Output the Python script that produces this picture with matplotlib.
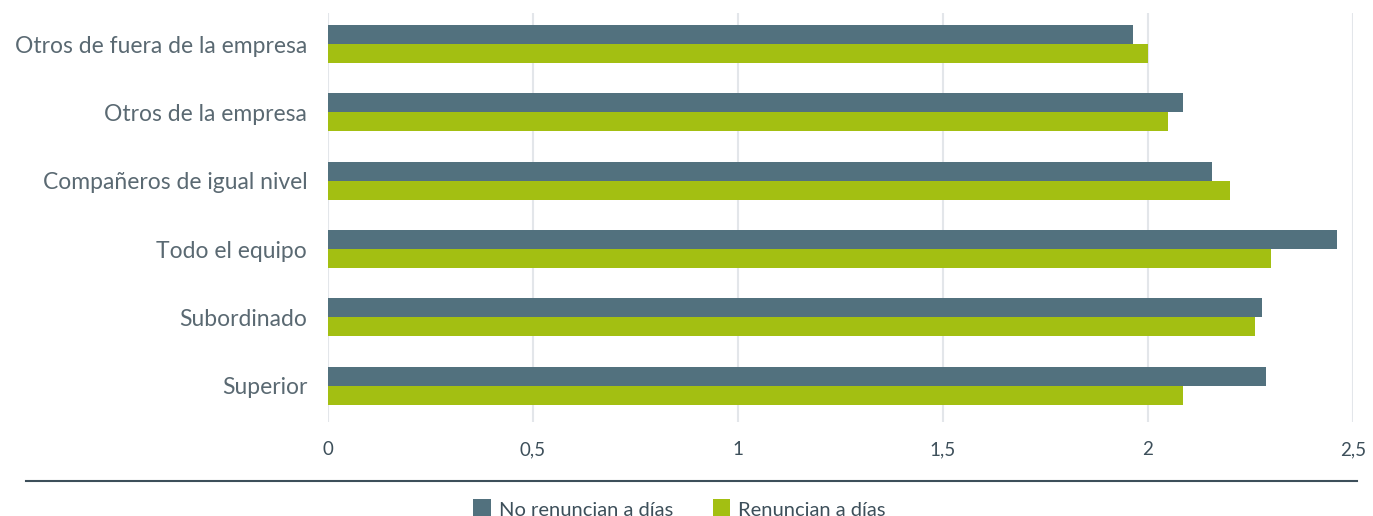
import matplotlib.pyplot as plt
import numpy as np
from matplotlib.lines import Line2D
from matplotlib.ticker import FuncFormatter

categorias = ['Superior', 'Subordinado', 'Todo el equipo', 'Compañeros de igual nivel',
              'Otros de la empresa', 'Otros de fuera de la empresa']
no_renuncian = [2.287, 2.277, 2.460, 2.156, 2.085, 1.963]
renuncian = [2.085, 2.260, 2.299, 2.200, 2.049, 2.000]
series = ['No renuncian a días', 'Renuncian a días']

c_dark = '#52717e'
c_green = '#a3bf12'
c_text = '#3d4f5a'

plt.rcParams['font.family'] = ['Lato', 'DejaVu Sans']

fig = plt.figure(figsize=(13.73, 5.16), dpi=100)
ax = fig.add_axes([0.2389, 0.1822, 0.9854 - 0.2389, 0.9748 - 0.1822])

y = np.arange(len(categorias))
h = 0.278
ax.barh(y + h / 2, no_renuncian, height=h, color=c_dark, label=series[0], zorder=2)
ax.barh(y - h / 2, renuncian, height=h, color=c_green, label=series[1], zorder=2)

ax.set_xlim(0, 2.5)
ax.set_ylim(-0.53, 5.454)
ax.set_xticks([0, 0.5, 1, 1.5, 2, 2.5])
ax.xaxis.set_major_formatter(FuncFormatter(lambda v, p: ('%g' % v).replace('.', ',')))
ax.set_yticks(y)
ax.set_yticklabels(categorias, fontsize=16.5, color='#5a6972')
ax.tick_params(axis='y', length=0, pad=15)
ax.tick_params(axis='x', length=0, pad=14, labelsize=13.5, labelcolor=c_text)
ax.grid(axis='x', color='#e3e6ea', linewidth=1.5, zorder=0)
for s in ax.spines.values():
    s.set_visible(False)

# line above the legend
fig.add_artist(Line2D([26 / 1373, 1357 / 1373], [1 - 481 / 516] * 2,
                      color=c_text, linewidth=1.5, transform=fig.transFigure))

fig.legend(loc='center', bbox_to_anchor=(0.495, 1 - 509 / 516), ncol=2, frameon=False,
           fontsize=14.5, handlelength=0.85, handleheight=1.05, handletextpad=0.4,
           columnspacing=2.0, labelcolor=c_text)

fig.savefig('out.png', dpi=100)
